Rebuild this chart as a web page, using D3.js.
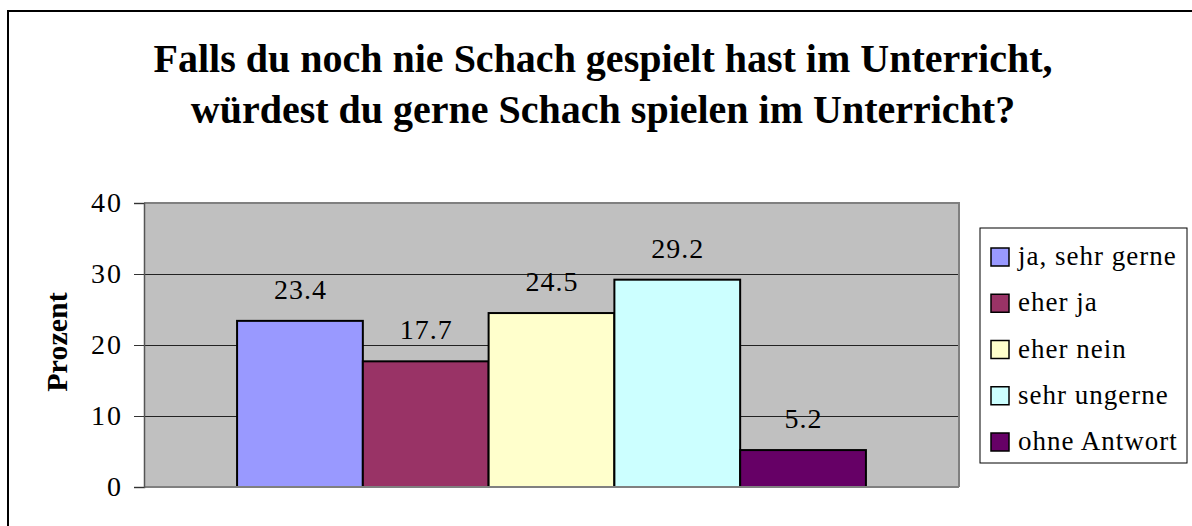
<!DOCTYPE html>
<html>
<head>
<meta charset="utf-8">
<script src="https://cdn.jsdelivr.net/npm/d3@7"></script>
<style>
  html, body { margin: 0; padding: 0; background: #fff; }
  svg { display: block; }
  svg text { font-family: "Liberation Serif", "Times New Roman", serif; }
</style>
</head>
<body>
<div id="chart"></div>
<script>
// Umfrage: Schach im Unterricht
const TITLE_LINES = ["Falls du noch nie Schach gespielt hast im Unterricht,",
                     "würdest du gerne Schach spielen im Unterricht?"];
const Y_LABEL   = "Prozent";
const CATEGORIES = ["ja, sehr gerne", "eher ja", "eher nein", "sehr ungerne", "ohne Antwort"];
const VALUES     = [23.4, 17.7, 24.5, 29.2, 5.2];
const COLORS     = ["#9999FF", "#993366", "#FFFFCC", "#CCFFFF", "#660066"];
const Y_TICKS    = [0, 10, 20, 30, 40];

const W = 1192, H = 526;
const plot = { left: 144, right: 959, top: 203, bottom: 487 };
const SERIF = "Liberation Serif, Times New Roman, serif";

const svg = d3.select("#chart").append("svg")
  .attr("width", W).attr("height", H)
  .attr("font-family", SERIF);

// outer chart border (right/bottom fall outside the picture)
svg.append("rect")
  .attr("x", 8).attr("y", 11)
  .attr("width", W + 20).attr("height", H + 20)
  .attr("fill", "none").attr("stroke", "#000").attr("stroke-width", 2);

// title
svg.append("text")
  .attr("text-anchor", "middle")
  .attr("font-weight", "bold")
  .attr("font-size", 40)
  .selectAll("tspan")
  .data(TITLE_LINES).join("tspan")
    .attr("x", 603)
    .attr("y", (d, i) => 72 + i * 51)
    .text(d => d);

const y = d3.scaleLinear().domain([0, 40]).range([plot.bottom, plot.top]);
const x = d3.scaleBand()
  .domain(CATEGORIES)
  .range([plot.left, plot.right])
  .paddingInner(0)
  .paddingOuter(0.74);

// plot background
svg.append("rect")
  .attr("x", plot.left).attr("y", plot.top)
  .attr("width", plot.right - plot.left).attr("height", plot.bottom - plot.top)
  .attr("fill", "#C0C0C0");

// grid
svg.append("g")
  .attr("transform", `translate(${plot.left},0)`)
  .call(d3.axisLeft(y).tickValues(Y_TICKS.slice(1)).tickSize(-(plot.right - plot.left)).tickFormat(""))
  .call(g => g.select(".domain").remove())
  .call(g => g.selectAll(".tick line").attr("stroke", "#222").attr("stroke-width", 1));

// plot border (top/right gray)
svg.append("path")
  .attr("d", `M${plot.left},${plot.top}H${plot.right}V${plot.bottom}`)
  .attr("fill", "none").attr("stroke", "#808080").attr("stroke-width", 2);

// bars
svg.append("g").selectAll("rect")
  .data(CATEGORIES).join("rect")
    .attr("x", d => x(d))
    .attr("y", (d, i) => y(VALUES[i]))
    .attr("width", x.bandwidth())
    .attr("height", (d, i) => y(0) - y(VALUES[i]))
    .attr("fill", (d, i) => COLORS[i])
    .attr("stroke", "#000").attr("stroke-width", 2);

// value labels
svg.append("g").selectAll("text")
  .data(CATEGORIES).join("text")
    .attr("x", d => x(d) + x.bandwidth() / 2 + 0.5)
    .attr("y", (d, i) => y(VALUES[i]) - 22)
    .attr("text-anchor", "middle")
    .attr("font-size", 28)
    .attr("letter-spacing", 1)
    .text((d, i) => d3.format(".1f")(VALUES[i]));

// x axis line
svg.append("line")
  .attr("x1", plot.left).attr("x2", plot.right)
  .attr("y1", plot.bottom).attr("y2", plot.bottom)
  .attr("stroke", "#808080").attr("stroke-width", 2);

// y axis
svg.append("g")
  .attr("transform", `translate(${plot.left},0)`)
  .call(d3.axisLeft(y).tickValues(Y_TICKS).tickSize(10).tickPadding(11).tickFormat(d3.format("d")))
  .call(g => g.select(".domain").attr("stroke", "#555").attr("stroke-width", 1.5))
  .call(g => g.selectAll(".tick line").attr("stroke", "#333"))
  .call(g => g.selectAll(".tick text")
    .attr("font-family", SERIF)
    .attr("font-size", 28).attr("letter-spacing", 2).attr("fill", "#000"));

// y label
svg.append("text")
  .attr("transform", "translate(67,342) rotate(-90)")
  .attr("text-anchor", "middle")
  .attr("font-weight", "bold")
  .attr("font-size", 30)
  .text(Y_LABEL);

// legend
const lg = svg.append("g");
lg.append("rect")
  .attr("x", 980).attr("y", 228).attr("width", 207).attr("height", 235)
  .attr("fill", "#fff").attr("stroke", "#000").attr("stroke-width", 1);
const items = lg.selectAll("g.item")
  .data(CATEGORIES).join("g")
    .attr("class", "item")
    .attr("transform", (d, i) => `translate(991,${257 + i * 46.25})`);
items.append("rect")
  .attr("x", 0).attr("y", -9).attr("width", 18).attr("height", 18)
  .attr("fill", (d, i) => COLORS[i]).attr("stroke", "#000").attr("stroke-width", 1.5);
items.append("text")
  .attr("x", 27).attr("y", 8)
  .attr("font-size", 27)
  .attr("letter-spacing", 1)
  .text(d => d);
</script>
</body>
</html>
